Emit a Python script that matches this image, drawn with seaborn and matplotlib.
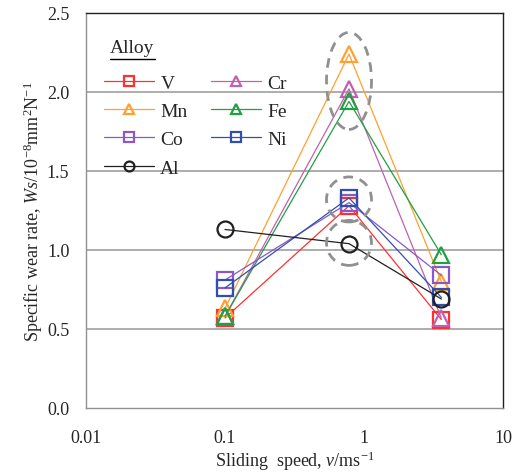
import matplotlib
matplotlib.use("Agg")
import matplotlib.pyplot as plt
import matplotlib.transforms as mtrans
from matplotlib.patches import Ellipse
from matplotlib.lines import Line2D
from matplotlib.ticker import FixedLocator, LogLocator, NullFormatter, FixedFormatter
import seaborn as sns
import pandas as pd

speeds = [0.1, 0.78, 3.6]
alloys = ["V", "Cr", "Mn", "Fe", "Co", "Ni", "Al"]
V = [0.57, 1.28, 0.56]
Cr = [0.58, 2.02, 0.57]
Mn = [0.63, 2.24, 0.80]
Fe = [0.58, 1.94, 0.97]
Co = [0.81, 1.30, 0.84]
Ni = [0.76, 1.33, 0.70]
Al = [1.13, 1.04, 0.69]
values = [V, Cr, Mn, Fe, Co, Ni, Al]
colors = ["#FF3030", "#C060B0", "#FFA030", "#20A040", "#8A58C8", "#3050B0", "#202020"]
markers = ["s", "^", "^", "^", "s", "s", "o"]

sns.set_style("white")
plt.rcParams["font.family"] = ["Liberation Serif", "DejaVu Serif"]
plt.rcParams["mathtext.fontset"] = "custom"
plt.rcParams["mathtext.rm"] = "Liberation Serif"
plt.rcParams["mathtext.it"] = "Liberation Serif:italic"

fig = plt.figure(figsize=(5.19, 4.77), dpi=100)
ax = fig.add_axes([86/519, 1-409/477, (503-86)/519, (409-14)/477])

for name, vals, c, m in zip(alloys, values, colors, markers):
    df = pd.DataFrame({"speed": speeds, "rate": vals})
    sns.lineplot(data=df, x="speed", y="rate", ax=ax, color=c, marker=m,
                 markersize=12 if m != "o" else 11.5, markerfacecolor="none",
                 markeredgecolor=c, markeredgewidth=1.6, linewidth=0.9,
                 label=name, zorder=3)

ax.set_xscale("log")
ax.set_xlim(0.01, 10)
ax.set_ylim(0, 2.5)
ax.set_yticks([0, 0.5, 1.0, 1.5, 2.0, 2.5])
ax.set_yticklabels(["0.0", "0.5", "1.0", "1.5", "2.0", "2.5"])
ax.xaxis.set_major_locator(FixedLocator([0.01, 0.1, 1, 10]))
ax.xaxis.set_major_formatter(FixedFormatter(["0.01", "0.1", "1", "10"]))
ax.xaxis.set_minor_locator(LogLocator(base=10, subs=range(2, 10)))
ax.xaxis.set_minor_formatter(NullFormatter())
ax.tick_params(axis="x", which="both", direction="in", length=4, color="#909090",
               labelsize=13, pad=15)
ax.tick_params(axis="y", length=0, labelsize=13, pad=12)

for yv in [0.5, 1.0, 1.5, 2.0]:
    ax.axhline(yv, color="#A0A0A0", linewidth=1.2, zorder=1)

for s in ["left", "bottom"]:
    ax.spines[s].set_color("#909090")
    ax.spines[s].set_linewidth(1.0)
for s in ["top", "right"]:
    ax.spines[s].set_color("#202020")
    ax.spines[s].set_linewidth(1.0)

ax.set_xlabel(r"Sliding  speed, $\mathit{v}$/ms$^{-1}$", fontsize=13, labelpad=2)
ax.set_ylabel(r"Specific wear rate, $\mathit{Ws}$/10$^{-8}$mm$^{2}$N$^{-1}$", fontsize=13, labelpad=1)

# dashed ellipses (sizes in inches at 100 dpi)
for (cx, cy, w, h) in [(0.78, 2.07, 45, 97), (0.78, 1.32, 45, 45), (0.78, 1.045, 45, 45)]:
    tr = fig.dpi_scale_trans + mtrans.ScaledTranslation(cx, cy, ax.transData)
    e = Ellipse((0, 0), w/100, h/100, transform=tr, fill=False, edgecolor="#909090",
                linestyle=(0, (3.5, 2.5)), linewidth=2.0, zorder=4)
    ax.add_artist(e)

handles, labels = ax.get_legend_handles_labels()
hmap = dict(zip(labels, handles))
order = ["V", "Mn", "Co", "Al", "Cr", "Fe", "Ni"]
leg = ax.legend([hmap[k] for k in order], order, ncol=2, loc="upper left",
                bbox_to_anchor=(0.015, 0.875), frameon=False, fontsize=14,
                markerscale=0.62, handlelength=2.6, columnspacing=1.2,
                labelspacing=0.55, handletextpad=0.3, borderaxespad=0.2)
ax.text(0.058, 0.89, "Alloy", transform=ax.transAxes, fontsize=14, ha="left", va="bottom")
ax.add_line(Line2D([0.058, 0.165], [0.883, 0.883], transform=ax.transAxes, color="black",
                   linewidth=1.0))

fig.savefig("out.png", dpi=100)
